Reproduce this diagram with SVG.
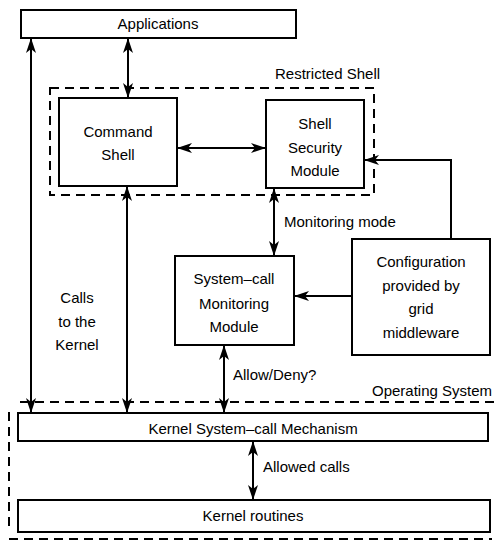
<svg xmlns="http://www.w3.org/2000/svg" width="494" height="543" viewBox="0 0 494 543">
<style>
.box{fill:#fff;stroke:#000;stroke-width:2}
.dash{fill:none;stroke:#000;stroke-width:2;stroke-dasharray:9,6}
.ln{fill:none;stroke:#000;stroke-width:2}
text{font-family:"Liberation Sans",Arial,sans-serif;font-size:15px;fill:#000;text-anchor:middle}
.l{text-anchor:start}
</style>
<defs>
<marker id="ah" markerWidth="15" markerHeight="10" refX="14" refY="5" orient="auto-start-reverse" markerUnits="userSpaceOnUse">
<path d="M0,0 L15,5 L0,10 L4,5 z" fill="#000"/>
</marker>
</defs>
<rect width="494" height="543" fill="#fff"/>
<g id="boundaries">
<rect class="dash" x="50" y="88" width="324" height="107"/>
<text class="l" x="275" y="79">Restricted Shell</text>
<path class="dash" d="M20,402 H494 M9,412 V530 M9,539 H492"/>
<text class="l" x="372" y="396">Operating System</text>
</g>
<g id="connectors">
<line class="ln" x1="31" y1="39" x2="31" y2="412" marker-start="url(#ah)" marker-end="url(#ah)"/>
<line class="ln" x1="128" y1="39" x2="128" y2="97" marker-start="url(#ah)" marker-end="url(#ah)"/>
<line class="ln" x1="178" y1="148" x2="265" y2="148" marker-start="url(#ah)" marker-end="url(#ah)"/>
<line class="ln" x1="127" y1="187" x2="127" y2="412" marker-start="url(#ah)" marker-end="url(#ah)"/>
<line class="ln" x1="274" y1="189" x2="274" y2="255" marker-start="url(#ah)" marker-end="url(#ah)"/>
<polyline class="ln" points="451,239 451,160 365,160" marker-end="url(#ah)"/>
<line class="ln" x1="352" y1="296" x2="295" y2="296" marker-end="url(#ah)"/>
<line class="ln" x1="224" y1="346" x2="224" y2="412" marker-start="url(#ah)" marker-end="url(#ah)"/>
<line class="ln" x1="253" y1="442" x2="253" y2="499" marker-start="url(#ah)" marker-end="url(#ah)"/>
<text x="77" y="303">Calls</text>
<text x="77" y="327">to the</text>
<text x="77" y="350">Kernel</text>
<text class="l" x="284" y="227">Monitoring mode</text>
<text class="l" x="233" y="380">Allow/Deny?</text>
<text class="l" x="263" y="472">Allowed calls</text>
</g>
<g id="applications">
<rect class="box" x="21" y="10" width="275" height="28"/>
<text x="158" y="29">Applications</text>
</g>
<g id="command-shell">
<rect class="box" x="59" y="98" width="118" height="88"/>
<text x="118" y="137">Command</text>
<text x="118" y="160">Shell</text>
</g>
<g id="shell-security-module">
<rect class="box" x="266" y="100" width="98" height="88"/>
<text x="315" y="129">Shell</text>
<text x="315" y="153">Security</text>
<text x="315" y="176">Module</text>
</g>
<g id="syscall-monitoring-module">
<rect class="box" x="175" y="256" width="119" height="89"/>
<text x="234" y="284">System–call</text>
<text x="234" y="309">Monitoring</text>
<text x="234" y="332">Module</text>
</g>
<g id="configuration">
<rect class="box" x="352" y="239" width="138" height="116"/>
<text x="421" y="267">Configuration</text>
<text x="421" y="291">provided by</text>
<text x="421" y="314">grid</text>
<text x="421" y="338">middleware</text>
</g>
<g id="kernel-syscall-mechanism">
<rect class="box" x="18" y="413" width="470" height="28"/>
<text x="253" y="434">Kernel System–call Mechanism</text>
</g>
<g id="kernel-routines">
<rect class="box" x="18" y="500" width="472" height="32"/>
<text x="253" y="521">Kernel routines</text>
</g>
</svg>
